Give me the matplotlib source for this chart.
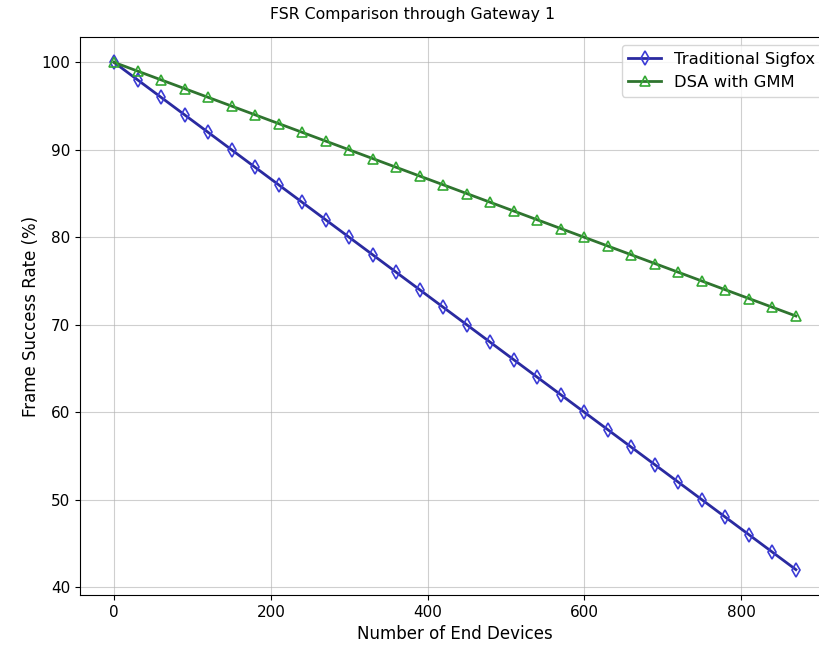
import matplotlib
matplotlib.use('Agg')
import matplotlib.pyplot as plt

# Data
devices = [0, 30, 60, 90, 120, 150, 180, 210, 240, 270,
           300, 330, 360, 390, 420, 450, 480, 510, 540, 570,
           600, 630, 660, 690, 720, 750, 780, 810, 840, 870]
fsr_sigfox = [100, 98, 96, 94, 92, 90, 88, 86, 84, 82,
              80, 78, 76, 74, 72, 70, 68, 66, 64, 62,
              60, 58, 56, 54, 52, 50, 48, 46, 44, 42]
fsr_dsa = [100, 99, 98, 97, 96, 95, 94, 93, 92, 91,
           90, 89, 88, 87, 86, 85, 84, 83, 82, 81,
           80, 79, 78, 77, 76, 75, 74, 73, 72, 71]

fig = plt.figure(figsize=(8.19, 6.46), dpi=100)
# axes run past the right edge, as in the cropped reference
ax = fig.add_axes([80 / 819, 1 - 595 / 646, (830 - 80) / 819, (595 - 37) / 646])

ax.plot(devices, fsr_sigfox, color='#2a2aa0', linewidth=2, marker='d',
        markersize=7.5, markerfacecolor='none', markeredgecolor='#3b3bd6',
        markeredgewidth=1.2, label='Traditional Sigfox')
ax.plot(devices, fsr_dsa, color='#2f742f', linewidth=2, marker='^',
        markersize=6.5, markerfacecolor='none', markeredgecolor='#33a833',
        markeredgewidth=1.2, label='DSA with GMM')

ax.set_title('FSR Comparison through Gateway 1', fontsize=11.3, x=0.444, pad=13)
ax.set_xlabel('Number of End Devices', fontsize=12)
ax.set_ylabel('Frame Success Rate (%)', fontsize=12, labelpad=1)
ax.tick_params(labelsize=11)
ax.grid(True, alpha=0.6)
ax.legend(loc='upper right', fontsize=11.8)

fig.savefig('out.png', dpi=100)
